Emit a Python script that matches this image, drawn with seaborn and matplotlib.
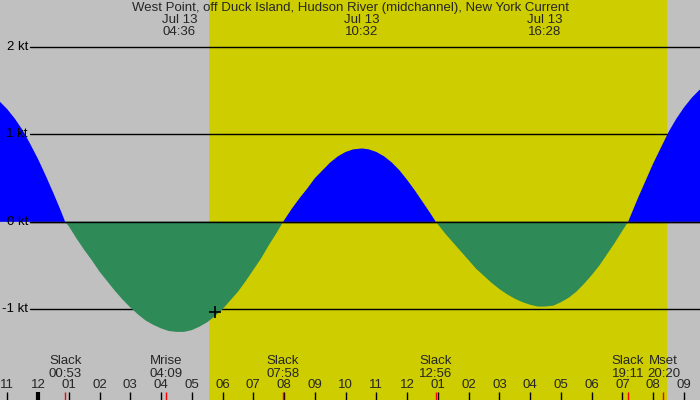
import numpy as np
import pandas as pd
import matplotlib
matplotlib.use("Agg")
import matplotlib.pyplot as plt
import matplotlib.transforms as mtransforms
import seaborn as sns

# --- datos (horas desde medianoche del 13 jul, nudos) ---
horas = [-1.5, -1.25, -1.0, -0.75, -0.5, -0.25, 0.0, 0.25, 0.5, 0.75, 0.883,
         1.0, 1.25, 1.5, 1.75, 2.0, 2.25, 2.5, 2.75, 3.0, 3.25, 3.5, 3.75, 4.0, 4.25,
         4.5, 4.6, 4.75, 5.0, 5.25, 5.5, 5.75, 6.0, 6.25, 6.5, 6.75, 7.0, 7.25, 7.5,
         7.75, 7.967, 8.25, 8.5, 8.75, 9.0, 9.25, 9.5, 9.75, 10.0, 10.25, 10.533,
         10.75, 11.0, 11.25, 11.5, 11.75, 12.0, 12.25, 12.5, 12.75, 12.933, 13.25,
         13.5, 13.75, 14.0, 14.25, 14.5, 14.75, 15.0, 15.25, 15.5, 15.75, 16.0, 16.25,
         16.467, 16.75, 17.0, 17.25, 17.5, 17.75, 18.0, 18.25, 18.5, 18.75, 19.0,
         19.183, 19.5, 19.75, 20.0, 20.25, 20.5, 20.75, 21.0, 21.25, 21.5, 21.75, 22.0]
velocidad = [1.43, 1.38, 1.29, 1.18, 1.05, 0.89, 0.72, 0.53, 0.33, 0.12, 0.0,
             -0.05, -0.19, -0.32, -0.44, -0.57, -0.68, -0.79, -0.89, -0.98, -1.06, -1.13,
             -1.18, -1.22, -1.25, -1.26, -1.26, -1.26, -1.24, -1.20, -1.15, -1.08, -1.00,
             -0.90, -0.80, -0.68, -0.55, -0.42, -0.27, -0.13, 0.0, 0.15, 0.27, 0.38, 0.50,
             0.59, 0.68, 0.75, 0.80, 0.83, 0.84, 0.83, 0.80, 0.75, 0.68, 0.59, 0.48, 0.36,
             0.23, 0.10, 0.0, -0.14, -0.24, -0.34, -0.44, -0.54, -0.62, -0.70, -0.77,
             -0.83, -0.88, -0.92, -0.95, -0.97, -0.97, -0.96, -0.92, -0.87, -0.80, -0.71,
             -0.61, -0.50, -0.37, -0.24, -0.10, 0.0, 0.27, 0.47, 0.67, 0.85, 1.03, 1.18,
             1.31, 1.42, 1.51, 1.56, 1.59]

titulo = "West Point, off Duck Island, Hudson River (midchannel), New York Current"
max_horas = [4.6, 10.533, 16.467]
max_fechas = ["Jul 13", "Jul 13", "Jul 13"]
max_etiquetas = ["04:36", "10:32", "16:28"]

evento_nombres = ["Slack", "Mrise", "Slack", "Slack", "Slack", "Mset"]
evento_horas = [0.883, 4.15, 7.967, 12.933, 19.183, 20.333]
evento_etiquetas = ["00:53", "04:09", "07:58", "12:56", "19:11", "20:20"]

hora_ticks = list(range(-1, 22))
hora_labels = ["11", "12", "01", "02", "03", "04", "05", "06", "07", "08", "09", "10",
               "11", "12", "01", "02", "03", "04", "05", "06", "07", "08", "09"]

niveles_kt = [2, 1, 0, -1]
niveles_labels = ["2 kt", "1 kt", "0 kt", "-1 kt"]

salida_sol = 5.56
puesta_sol = 20.45
marca_hora = 5.75
marca_vel = -1.03

df = pd.DataFrame({"hora": horas, "vel": velocidad})

sns.set_style("white")
plt.rcParams["font.family"] = ["Liberation Sans", "DejaVu Sans"]

fig = plt.figure(figsize=(7, 4), dpi=100)
ax = fig.add_axes([0, 0, 1, 1])
ax.set_facecolor("#C0C0C0")
ax.set_xlim(-1.235, 21.52)
ax.set_ylim(-2.04, 2.54)
ax.axis("off")
fig.patch.set_facecolor("#C0C0C0")

# franja de luz diurna
ax.axvspan(salida_sol, puesta_sol, color="#CDCD00", lw=0, zorder=0)

# lineas de nivel
for nivel in niveles_kt:
    ax.axhline(nivel, xmin=30 / 700, xmax=1, color="black", lw=1, zorder=1)

# relleno de corriente
ax.fill_between(df["hora"], df["vel"], 0, where=df["vel"] >= 0, interpolate=True,
                color="#0000FF", lw=0, zorder=2)
ax.fill_between(df["hora"], df["vel"], 0, where=df["vel"] <= 0, interpolate=True,
                color="#2E8B57", lw=0, zorder=2)
ax.axhline(0, xmin=30 / 700, xmax=1, color="black", lw=1, zorder=3)

sns.scatterplot(x=[marca_hora], y=[marca_vel], marker="+", s=80, color="black",
                linewidth=1.2, ax=ax, zorder=4)

trans = mtransforms.blended_transform_factory(ax.transData, ax.transAxes)
fs = 9.5

# etiquetas de nivel
for nivel, lab in zip(niveles_kt, niveles_labels):
    ax.text(28 / 700, nivel, lab, transform=mtransforms.blended_transform_factory(ax.transAxes, ax.transData),
            ha="right", va="center", fontsize=fs, color="black")

# titulo y maximos
ax.text(0.5, 1 - 8 / 400, titulo, transform=ax.transAxes, ha="center", va="center", fontsize=fs)
for h, fecha, lab in zip(max_horas, max_fechas, max_etiquetas):
    ax.text(h, 1 - 20 / 400, fecha, transform=trans, ha="center", va="center", fontsize=fs)
    ax.text(h, 1 - 32 / 400, lab, transform=trans, ha="center", va="center", fontsize=fs)

# eje de horas
for h, lab in zip(hora_ticks, hora_labels):
    ancho = 3 if h == 0 else 1
    ax.plot([h, h], [0, 8 / 400], transform=trans, color="black", lw=ancho, zorder=5,
            solid_capstyle="butt")
    ax.text(h, 1 - 385 / 400, lab, transform=trans, ha="center", va="center", fontsize=fs)

# eventos
for nombre, h, lab in zip(evento_nombres, evento_horas, evento_etiquetas):
    ax.plot([h, h], [0, 8 / 400], transform=trans, color="red", lw=1, zorder=6,
            solid_capstyle="butt")
    ax.text(h, 1 - 361 / 400, nombre, transform=trans, ha="center", va="center", fontsize=fs)
    ax.text(h, 1 - 374 / 400, lab, transform=trans, ha="center", va="center", fontsize=fs)

fig.savefig("out.png", dpi=100, facecolor=fig.get_facecolor())
